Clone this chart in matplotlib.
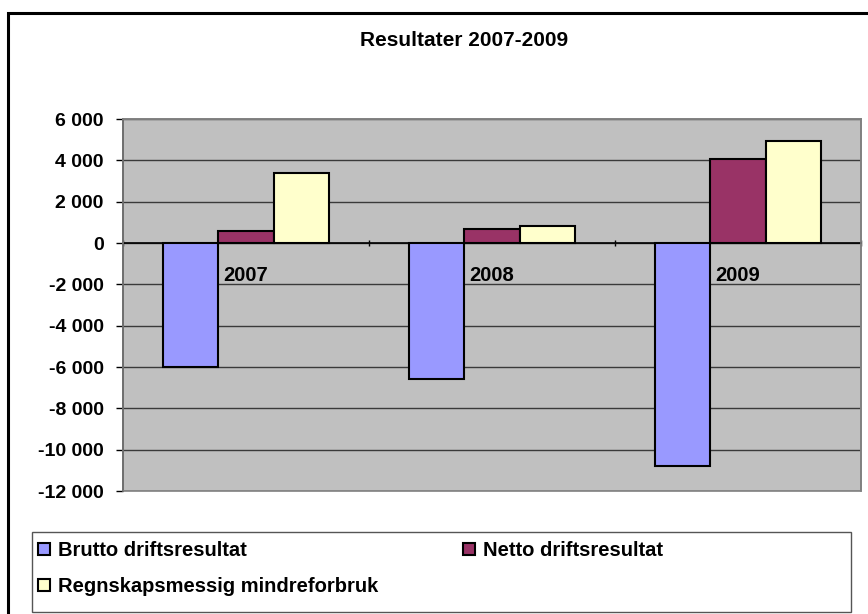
import matplotlib
matplotlib.use("Agg")
import matplotlib.pyplot as plt
from matplotlib.patches import Rectangle
import numpy as np

plt.rcParams['font.family'] = ['Liberation Sans', 'DejaVu Sans']
plt.rcParams['font.weight'] = 'bold'

# data
years = ['2007', '2008', '2009']
series_names = ['Brutto driftsresultat', 'Netto driftsresultat', 'Regnskapsmessig mindreforbruk']
brutto = [-6000, -6600, -10800]
netto = [600, 700, 4050]
regnskap = [3400, 800, 4950]
colors = ['#9999FF', '#993366', '#FFFFCC']
yticks = list(range(-12000, 6001, 2000))

W, H = 868, 614
fig = plt.figure(figsize=(W / 100, H / 100), dpi=100)
fig.patch.set_facecolor('white')

# axes placed in pixel coords
left, right, top, bottom = 123, 861, 119, 491
ax = fig.add_axes([left / W, 1 - bottom / H, (right - left) / W, (bottom - top) / H])
ax.set_facecolor('#C0C0C0')

x = np.arange(len(years))
w = 0.225
values = [brutto, netto, regnskap]
bars = []
for k, vals in enumerate(values):
    b = ax.bar(x + (k - 1) * w, vals, w, color=colors[k], edgecolor='black',
               linewidth=1.5, zorder=3, label=series_names[k])
    bars.append(b)

ax.set_xlim(-0.5, 2.5)
ax.set_ylim(-12000, 6000)
ax.set_yticks(yticks)
ax.set_yticklabels(['{:,}'.format(v).replace(',', ' ') for v in yticks], fontsize=14)
ax.yaxis.grid(True, color='#3a3a3a', linewidth=1.0, zorder=1)
ax.set_axisbelow(True)

# category axis sitting on zero
ax.spines['bottom'].set_position(('data', 0))
ax.spines['bottom'].set_color('black')
ax.spines['bottom'].set_linewidth(1.2)
ax.spines['bottom'].set_zorder(4)
ax.set_xticks([-0.5, 0.5, 1.5, 2.5])
ax.set_xticklabels([])
ax.tick_params(axis='x', direction='inout', length=5, width=1, color='black')
ax.tick_params(axis='y', direction='out', length=5, width=1, pad=9, color='black')
for s in ['top', 'right']:
    ax.spines[s].set_color('#808080')
    ax.spines[s].set_linewidth(1.2)
ax.spines['left'].set_color('black')
ax.spines['left'].set_linewidth(1.2)
ax.add_patch(Rectangle((0, 0), 1, 1, transform=ax.transAxes, fill=False,
                       edgecolor='#808080', linewidth=1.2, zorder=5, clip_on=False))

for i, yr in enumerate(years):
    ax.annotate(yr, (i, 0), xytext=(0, -23.5), textcoords='offset points',
                ha='center', va='center', fontsize=14.5, fontweight='bold', zorder=6)

fig.text(464 / W, 1 - 40 / H, 'Resultater 2007-2009', ha='center', va='center',
         fontsize=15, fontweight='bold')

# legend (frame drawn separately so it can span the full width)
handles = [bars[0], bars[2], bars[1]]
labels = [series_names[0], series_names[2], series_names[1]]
leg = fig.legend(handles, labels, ncol=2, loc='upper left',
                 bbox_to_anchor=(38 / W, 1 - 541 / H), fontsize=14.5,
                 frameon=False, handlelength=0.6, handleheight=0.6,
                 handletextpad=0.4, columnspacing=4.2, labelspacing=0.85,
                 borderpad=0, borderaxespad=0)
fig.patches.append(Rectangle((32 / W, 1 - 612 / H), (851 - 32) / W, 80 / H,
                             transform=fig.transFigure, fill=False,
                             edgecolor='#555555', linewidth=1.0))

# chart area border (left and top visible)
fig.patches.append(Rectangle((8 / W, -0.2), 1.2, 1.2 - 13 / H, transform=fig.transFigure,
                             fill=False, edgecolor='black', linewidth=2.2))

fig.savefig('out.png', dpi=100)
